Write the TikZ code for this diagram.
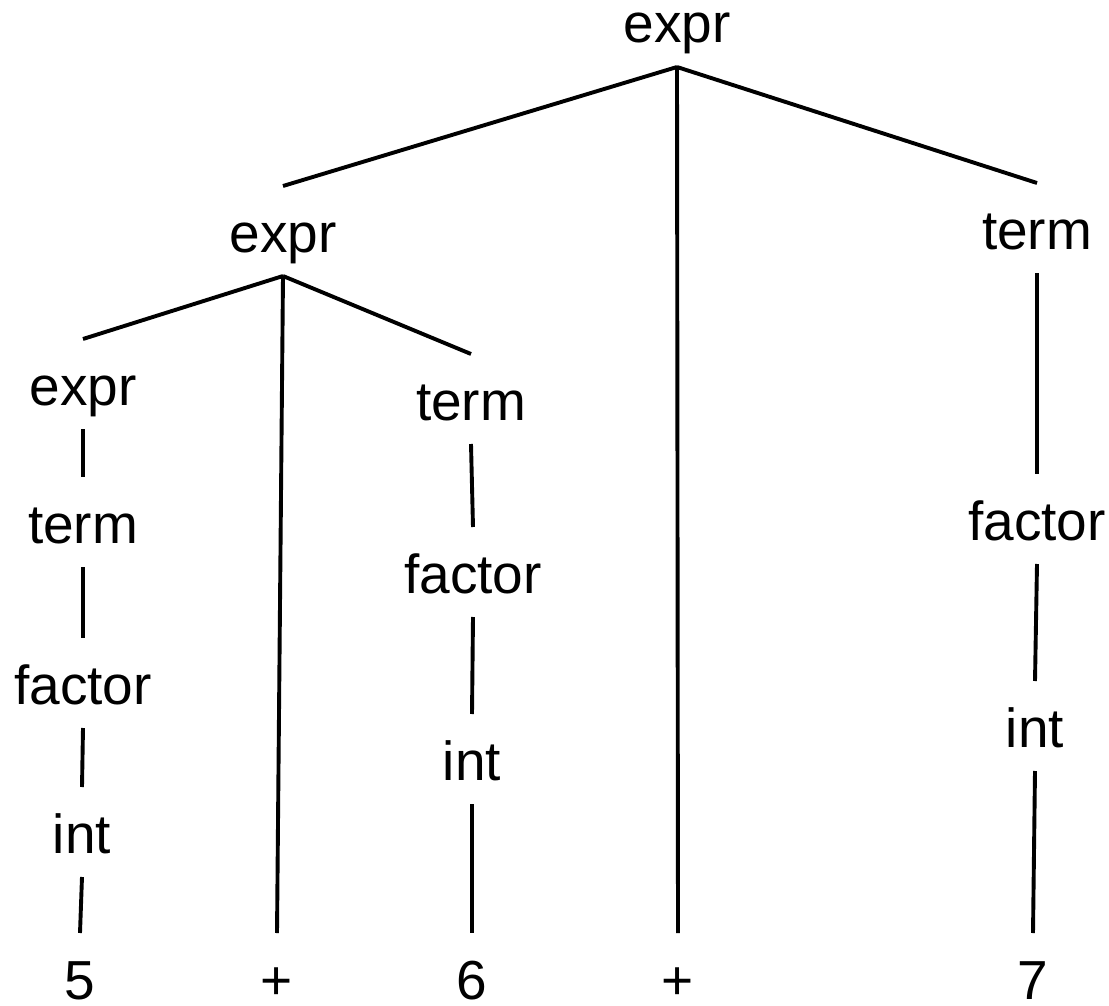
\documentclass[tikz,border=0pt]{standalone}
\usepackage{fontspec}
\setmainfont{Liberation Sans}
\begin{document}
\begin{tikzpicture}[x=1pt,y=-1pt,
  sym/.style={inner sep=0pt,outer sep=0pt,anchor=base,
    text height=66pt,text depth=24pt,
    font=\fontsize{55}{60}\selectfont},
  leaf/.style={sym,text depth=4pt},
  edge/.style={line width=3.9pt,line cap=butt}]
\useasboundingbox (0,0) rectangle (1109,1006);

% nonterminals and terminals, placed by baseline
\node[sym] (e0) at (677,43)  {expr};
\node[sym] (e1) at (283,252) {expr};
\node[sym] (e2) at (83,405)  {expr};
\node[sym] (t2) at (83,543)  {term};
\node[sym] (f2) at (83,704)  {factor};
\node[sym] (i2) at (82,853)  {int};
\node[leaf] (n5) at (80,999) {5};
\node[leaf] (p1) at (277,999) {+};
\node[sym] (t1) at (471,420) {term};
\node[sym] (f1) at (473,593) {factor};
\node[sym] (i1) at (472,780) {int};
\node[leaf] (n6) at (472,999) {6};
\node[leaf] (p2) at (678,999) {+};
\node[sym] (t3) at (1037,249) {term};
\node[sym] (f3) at (1037,540) {factor};
\node[sym] (i3) at (1035,747) {int};
\node[leaf] (n7) at (1033,999) {7};

% tree edges
\draw[edge] (e0.south) -- (e1.north);
\draw[edge] (e0.south) -- (p2.north);
\draw[edge] (e0.south) -- (t3.north);
\draw[edge] (e1.south) -- (e2.north);
\draw[edge] (e1.south) -- (p1.north);
\draw[edge] (e1.south) -- (t1.north);
\draw[edge] (e2.south) -- (t2.north);
\draw[edge] (t2.south) -- (f2.north);
\draw[edge] (f2.south) -- (i2.north);
\draw[edge] (i2.south) -- (n5.north);
\draw[edge] (t1.south) -- (f1.north);
\draw[edge] (f1.south) -- (i1.north);
\draw[edge] (i1.south) -- (n6.north);
\draw[edge] (t3.south) -- (f3.north);
\draw[edge] (f3.south) -- (i3.north);
\draw[edge] (i3.south) -- (n7.north);
\end{tikzpicture}
\end{document}
